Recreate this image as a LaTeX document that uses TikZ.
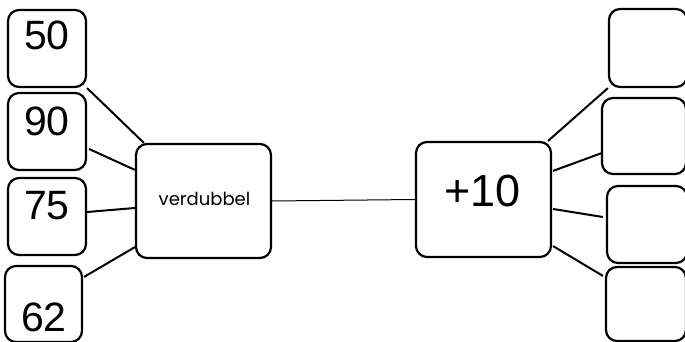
\documentclass[tikz,border=0pt]{standalone}
\usepackage{fontspec}
\setmainfont{Liberation Sans}
\newfontfamily\geofont{Poppins}
\begin{document}
\begin{tikzpicture}[x=1pt,y=-1pt,
  box/.style={draw=black,line width=2.2pt,rounded corners=11pt,minimum width=#1,inner sep=0pt},
  conn/.style={line width=2pt},
  num/.style={font=\fontsize{41}{41}\selectfont,inner sep=0pt}]
\useasboundingbox (0,0) rectangle (685,342);
% left boxes
\node[box=78pt,minimum height=77pt] (a) at (47,48.5) {};
\node[box=78pt,minimum height=77pt] (b) at (47,131.5) {};
\node[box=78pt,minimum height=77pt] (c) at (47,216.5) {};
\node[box=77pt,minimum height=76pt] (d) at (43.5,304) {};
\node[num] (ta) at (47,35) {50};
\node[num] (tb) at (47,121) {90};
\node[num] (tc) at (47,205.5) {75};
\node[num] (td) at (44,317) {62};
% centre boxes
\node[box=135pt,minimum height=114pt] (v) at (203.5,201) {};
\node[font=\geofont\fontsize{18}{18}\selectfont,inner sep=0pt] (tv) at (204.5,199) {verdubbel};
\node[box=135pt,minimum height=115pt] (p) at (483.5,199.5) {};
\node[num,font=\fontsize{45}{45}\selectfont] (tp) at (482.5,191.5) {+10};
% right boxes
\node[box=78pt,minimum height=78pt] (e) at (648,48) {};
\node[box=84pt,minimum height=76pt] (f) at (644,136) {};
\node[box=80pt,minimum height=77pt] (g) at (647,224.5) {};
\node[box=80pt,minimum height=74pt] (h) at (646,304) {};
% connectors
\draw[conn] (a.south east) -- ([shift={(9,0)}]v.north west);
\draw[conn] ([shift={(2,17.5)}]b.east) -- ([shift={(0,27)}]v.north west);
\draw[conn] ([shift={(0,-4.5)}]c.east) -- ([shift={(0,7)}]v.west);
\draw[conn] ([shift={(1,12)}]d.north east) -- ([shift={(0,-12)}]v.south west);
\draw[line width=1pt] (v.east) -- (p.west);
\draw[conn] ([shift={(-4,0)}]p.north east) -- (e.south west);
\draw[conn] ([shift={(1,30)}]p.north east) -- ([shift={(1,17)}]f.west);
\draw[conn] ([shift={(1,9.5)}]p.east) -- ([shift={(-3,-7.5)}]g.west);
\draw[conn] ([shift={(1,-12)}]p.south east) -- ([shift={(-2,10)}]h.north west);
\end{tikzpicture}
\end{document}
